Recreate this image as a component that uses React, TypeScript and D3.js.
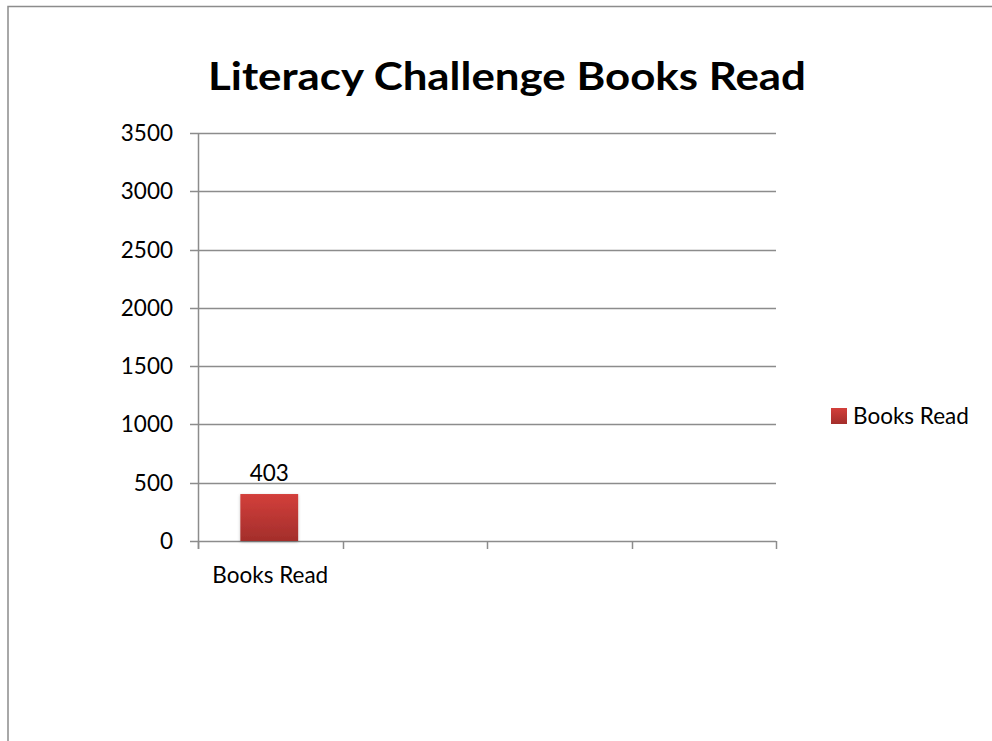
import React, { useRef, useEffect } from "react";
import * as d3 from "d3";

// chart data
const categories = ["Books Read", "", "", ""];
const booksRead = [403, null, null, null];
const yTicks = [0, 500, 1000, 1500, 2000, 2500, 3000, 3500];
const seriesName = "Books Read";
const title = "Literacy Challenge Books Read";

const width = 992;
const height = 741;
const font = "Lato, 'Open Sans', sans-serif";
const labelSize = 22.5;

const App = () => {
  const ref: any = useRef();

  useEffect(() => {
    const svg = d3.select(ref.current);
    svg.selectAll("*").remove();

    const left = 198;
    const right = 776;
    const top = 133;
    const bottom = 541;

    const x = d3
      .scaleBand()
      .domain(categories.map((_, i) => String(i)))
      .range([left, right])
      .paddingInner(0.6)
      .paddingOuter(0.3);

    const band = d3
      .scaleBand()
      .domain(categories.map((_, i) => String(i)))
      .range([left, right]);

    const y = d3.scaleLinear().domain([0, 3500]).range([bottom, top]);

    const defs = svg.append("defs");
    const grad = defs
      .append("linearGradient")
      .attr("id", "barGrad")
      .attr("x1", 0)
      .attr("y1", 0)
      .attr("x2", 0)
      .attr("y2", 1);
    grad.append("stop").attr("offset", "0%").attr("stop-color", "#d33f3b");
    grad.append("stop").attr("offset", "100%").attr("stop-color", "#a32e2b");

    const shadow = defs.append("filter").attr("id", "shadow").attr("x", "-20%").attr("y", "-20%").attr("width", "140%").attr("height", "140%");
    shadow
      .append("feDropShadow")
      .attr("dx", 0)
      .attr("dy", 1)
      .attr("stdDeviation", 1.5)
      .attr("flood-color", "#000")
      .attr("flood-opacity", 0.25);

    // outer frame (only top and left show)
    svg
      .append("rect")
      .attr("x", 8)
      .attr("y", 6.5)
      .attr("width", width + 20)
      .attr("height", height + 20)
      .attr("fill", "white")
      .attr("stroke", "#8c8c8c")
      .attr("stroke-width", 1.5);

    svg
      .append("text")
      .attr("x", 507)
      .attr("y", 90)
      .attr("text-anchor", "middle")
      .attr("font-family", font)
      .attr("font-weight", "bold")
      .attr("font-size", 39)
      .attr("textLength", 598)
      .attr("lengthAdjust", "spacingAndGlyphs")
      .attr("fill", "#000")
      .text(title);

    // gridlines
    svg
      .append("g")
      .selectAll("line")
      .data(yTicks)
      .enter()
      .append("line")
      .attr("x1", left - 8)
      .attr("x2", right)
      .attr("y1", (d) => Math.round(y(d)) + 0.5)
      .attr("y2", (d) => Math.round(y(d)) + 0.5)
      .attr("stroke", "#8c8c8c")
      .attr("stroke-width", 1.5);

    // y axis line
    svg
      .append("line")
      .attr("x1", left + 0.5)
      .attr("x2", left + 0.5)
      .attr("y1", top)
      .attr("y2", bottom + 8)
      .attr("stroke", "#8c8c8c")
      .attr("stroke-width", 1.5);

    // x ticks
    const xTickPos = categories.map((_, i) => band(String(i)) as number).concat([right]);
    svg
      .append("g")
      .selectAll("line")
      .data(xTickPos)
      .enter()
      .append("line")
      .attr("x1", (d) => Math.round(d) + 0.5)
      .attr("x2", (d) => Math.round(d) + 0.5)
      .attr("y1", bottom)
      .attr("y2", bottom + 8)
      .attr("stroke", "#8c8c8c")
      .attr("stroke-width", 1.5);

    // y tick labels
    svg
      .append("g")
      .selectAll("text")
      .data(yTicks)
      .enter()
      .append("text")
      .attr("x", 173)
      .attr("y", (d) => y(d) + 8)
      .attr("text-anchor", "end")
      .attr("font-family", font)
      .attr("font-size", labelSize)
      .attr("fill", "#000")
      .text((d) => d);

    // bars
    const barData = booksRead
      .map((v, i) => ({ v, i }))
      .filter((d) => d.v !== null) as { v: number; i: number }[];

    svg
      .append("g")
      .selectAll("rect")
      .data(barData)
      .enter()
      .append("rect")
      .attr("x", (d) => (x(String(d.i)) as number) - 1)
      .attr("width", x.bandwidth())
      .attr("y", (d) => y(d.v))
      .attr("height", (d) => bottom - y(d.v))
      .attr("fill", "url(#barGrad)")
      .attr("filter", "url(#shadow)");

    svg
      .append("g")
      .selectAll("text")
      .data(barData)
      .enter()
      .append("text")
      .attr("x", (d) => (x(String(d.i)) as number) + x.bandwidth() / 2 - 1)
      .attr("y", (d) => y(d.v) - 13)
      .attr("text-anchor", "middle")
      .attr("font-family", font)
      .attr("font-size", labelSize)
      .attr("fill", "#000")
      .text((d) => d.v);

    // category labels
    svg
      .append("g")
      .selectAll("text")
      .data(categories)
      .enter()
      .append("text")
      .attr("x", (_, i) => (band(String(i)) as number) + band.bandwidth() / 2)
      .attr("y", 583)
      .attr("text-anchor", "middle")
      .attr("font-family", font)
      .attr("font-size", labelSize)
      .attr("fill", "#000")
      .text((d) => d);

    // legend
    const legend = svg.append("g").attr("transform", "translate(831,408)");
    legend
      .append("rect")
      .attr("width", 16)
      .attr("height", 16)
      .attr("fill", "url(#barGrad)");
    legend
      .append("text")
      .attr("x", 22)
      .attr("y", 16)
      .attr("font-family", font)
      .attr("font-size", labelSize)
      .attr("fill", "#000")
      .text(seriesName);
  }, []);

  return (
    <svg
      ref={ref}
      width={width}
      height={height}
      style={{ position: "absolute", left: 0, top: 0 }}
    ></svg>
  );
};

export default App;
